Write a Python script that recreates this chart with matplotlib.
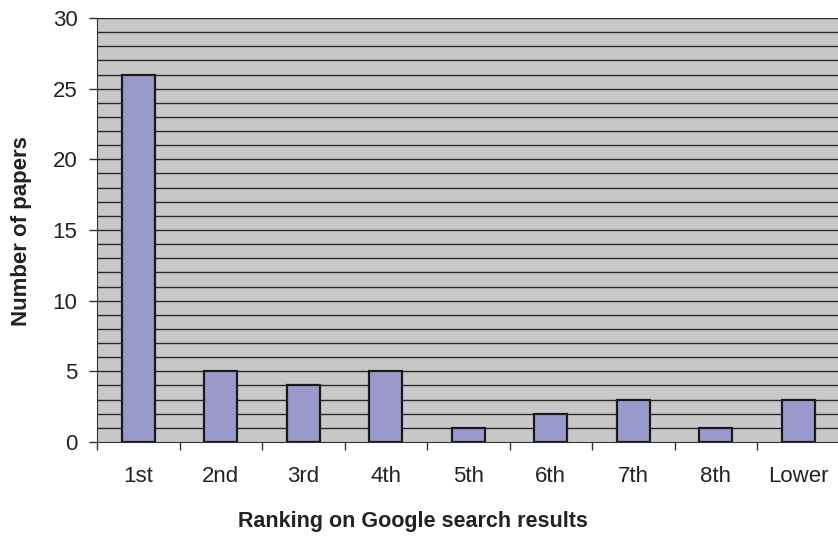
import matplotlib
matplotlib.use('Agg')
import matplotlib.pyplot as plt
import numpy as np

plt.rcParams['font.family'] = ['Liberation Sans', 'DejaVu Sans']

# dados
rankings = ['1st', '2nd', '3rd', '4th', '5th', '6th', '7th', '8th', 'Lower']
papers = [26, 5, 4, 5, 1, 2, 3, 1, 3]

fig = plt.figure(figsize=(8.38, 5.36), dpi=100)
ax = fig.add_axes([97 / 838, 1 - 442 / 536, 1 - 97 / 838 + 0.002, (442 - 18) / 536])

x = np.arange(len(rankings))
ax.set_facecolor('#c8c8c8')
ax.bar(x, papers, width=0.4, color='#9999cc', edgecolor='#1a1a1a', linewidth=1.6, zorder=3)

# grade horizontal a cada unidade
for y in range(1, 31):
    ax.axhline(y, color='#2a2a2a', linewidth=1.0, zorder=1)

ax.set_xlim(-0.5, len(rankings) - 0.5)
ax.set_ylim(0, 30)
ax.set_yticks(range(0, 31, 5))
ax.set_xticks(x)
ax.set_xticklabels(rankings, fontsize=16, color='#222222')
ax.set_xticks(np.arange(-0.5, len(rankings), 1.0), minor=True)
ax.tick_params(axis='x', which='major', length=0, pad=17)
ax.tick_params(axis='x', which='minor', length=6, width=1, color='#333333')
ax.tick_params(axis='y', labelsize=16, labelcolor='#222222', length=6, width=1,
               color='#333333', pad=8)

for s in ['top', 'right']:
    ax.spines[s].set_visible(False)
ax.spines['left'].set_color('#333333')
ax.spines['bottom'].set_color('#333333')

fig.text(413 / 838, 1 - 522 / 536, 'Ranking on Google search results', fontsize=15.5,
         fontweight='bold', ha='center', va='center', color='#222222')
fig.text(21 / 838, 1 - 231 / 536, 'Number of papers', fontsize=16, fontweight='bold',
         rotation=90, ha='center', va='center', color='#222222')

fig.savefig('out.png', dpi=100)
